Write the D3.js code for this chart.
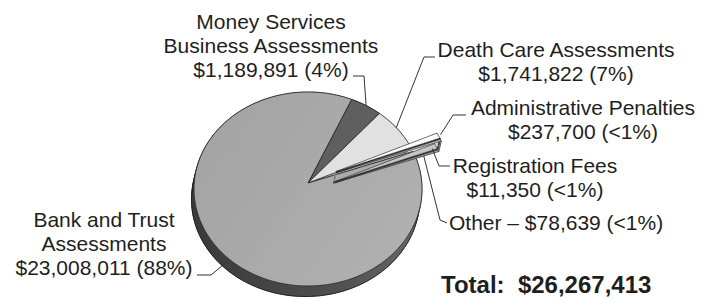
<!DOCTYPE html>
<html>
<head>
<meta charset="utf-8">
<script src="https://cdn.jsdelivr.net/npm/d3@7"></script>
<style>
  html, body { margin: 0; padding: 0; background: #fff; }
  svg { display: block; }
  .lbl { font-family: "Liberation Sans", Arial, sans-serif; font-size: 21px; fill: #1e1e1e; }
  .total { font-weight: bold; font-size: 24px; }
</style>
</head>
<body>
<svg id="chart" width="706" height="299"></svg>
<script>
"use strict";

// ---- Data ----
const CATEGORIES = ["Money Services Business Assessments", "Death Care Assessments", "Administrative Penalties",
  "Registration Fees", "Other", "Bank and Trust Assessments"];
const NAME_LINES = [["Money Services", "Business Assessments"], ["Death Care Assessments"], ["Administrative Penalties"],
  ["Registration Fees"], ["Other"], ["Bank and Trust", "Assessments"]];
const AMOUNTS = [1189891, 1741822, 237700, 11350, 78639, 23008011];
const PERCENTS = ["4%", "7%", "<1%", "<1%", "<1%", "88%"];
const EXPLODED = [false, false, true, true, true, false];
const TOTAL = 26267413;

// ---- Layout / style ----
const SVG_ID = "#chart";
const CX = 308, CY = 189, RX = 114, RY = 97; // ellipse of the pie top
const APEX_DY = -6;        // perspective: centre point sits a little above ellipse centre
const DEPTH = [-2.5, 10.5]; // extrusion vector of the pie side
const EXPLODE = 0.27;      // explosion as fraction of radius
const START = 22.5 * Math.PI / 180;

const TOP_FILL = ["#5f5f5f", "#e1e1e1", "#ffffff", "#000000", "#cfcfcf", "url(#topGrad)"];
const SIDE_FILL = ["#3e3e3e", "#b5b5b5", "#c6c6c6", "#000000", "#a9a9a9", "url(#sideGrad)"];

// label placement: x, first baseline, anchor, leader polyline start (+ elbow), leader end on slice
const LABELS = [
  { x: 271, y: 28.5, anchor: "middle", lead: [[353, 76], [364, 76]], r: 1, dz: 0 },
  { x: 556, y: 57, anchor: "middle", lead: [[435, 57], [424, 57]], r: 1, dz: 0 },
  { x: 583, y: 115, anchor: "middle", lead: [[466, 115], [453, 115]], r: 1.02, dz: 0 },
  { x: 535, y: 173, anchor: "middle", lead: [[450, 166], [439, 166]], r: 0.94, dz: 0.7 },
  { x: 449, y: 230, anchor: "start", lead: [[447, 223], [440, 220]], r: 0.86, dz: 1 },
  { x: 104, y: 227, anchor: "middle", lead: [[197, 275], [211, 275]], r: 1, dz: 0.4 }
];
const LINE_GAP = 24;

const DOLLAR = d3.format("$,");
const X_SCALE = d3.scaleLinear().domain([-1, 1]).range([CX - RX, CX + RX]);
const Y_SCALE = d3.scaleLinear().domain([-1, 1]).range([CY + RY, CY - RY]);

const svg = d3.select(SVG_ID);

// gradients
const defs = svg.append("defs");
const tg = defs.append("linearGradient").attr("id", "topGrad").attr("x1", 0).attr("x2", 1).attr("y1", 0.2).attr("y2", 0.8);
tg.append("stop").attr("offset", 0).attr("stop-color", "#a3a3a3");
tg.append("stop").attr("offset", 1).attr("stop-color", "#b1b1b1");
const sg = defs.append("linearGradient").attr("id", "sideGrad").attr("x1", 0).attr("x2", 1).attr("y1", 0).attr("y2", 0);
sg.append("stop").attr("offset", 0).attr("stop-color", "#3a3a3a");
sg.append("stop").attr("offset", 0.6).attr("stop-color", "#4e4e4e");
sg.append("stop").attr("offset", 1).attr("stop-color", "#686868");

// pie angles
const pie = d3.pie().sort(null).value(d => d).startAngle(START).endAngle(START + 2 * Math.PI);
const arcs = pie(AMOUNTS).map((a, i) => {
  const mid = (a.startAngle + a.endAngle) / 2;
  const off = EXPLODED[i]
    ? [X_SCALE(EXPLODE * Math.sin(mid)) - CX, Y_SCALE(EXPLODE * Math.cos(mid)) - CY]
    : [0, 0];
  return { a0: a.startAngle, a1: a.endAngle, mid: mid, off: off, i: i };
});

function rim(a, r, off) {
  return [X_SCALE(r * Math.sin(a)) + off[0], Y_SCALE(r * Math.cos(a)) + off[1]];
}

function outline(s) {
  const n = Math.max(2, Math.ceil((s.a1 - s.a0) / 0.02));
  const pts = [[CX + s.off[0], CY + APEX_DY + s.off[1]]];
  for (let k = 0; k <= n; k++) pts.push(rim(s.a0 + (s.a1 - s.a0) * k / n, 1, s.off));
  return pts;
}

function down(p) {
  return [p[0] + DEPTH[0], p[1] + DEPTH[1]];
}

function polyPath(pts) {
  return "M" + pts.map(p => p[0].toFixed(2) + "," + p[1].toFixed(2)).join("L") + "Z";
}

function sidePath(pts) {
  let d = "";
  for (let k = 0; k < pts.length; k++) {
    const p = pts[k], q = pts[(k + 1) % pts.length];
    d += polyPath([p, q, down(q), down(p)]);
  }
  return d;
}

function bottomEdge(pts, closed) {
  const b = (closed ? pts : pts.slice(1)).map(down);
  return "M" + b.map(p => p[0].toFixed(2) + "," + p[1].toFixed(2)).join("L") + (closed ? "Z" : "");
}

function drawSlices(group, list, small) {
  const sides = group.append("g");
  const tops = group.append("g");
  list.forEach(s => {
    const pts = outline(s);
    sides.append("path").attr("d", sidePath(pts))
      .attr("fill", SIDE_FILL[s.i]).attr("stroke", SIDE_FILL[s.i])
      .attr("stroke-width", 0.5).attr("stroke-linejoin", "round");
    sides.append("path").attr("d", bottomEdge(pts, small))
      .attr("fill", "none").attr("stroke", "#1a1a1a").attr("stroke-width", small ? 0.6 : 0.9);
    if (small) {
      // vertical edge at the outer tip
      const tip = pts[pts.length - 1], tip0 = pts[1];
      sides.append("path").attr("d", d3.line()([tip0, down(tip0)]) + d3.line()([tip, down(tip)]))
        .attr("stroke", "#222").attr("stroke-width", 0.6);
    }
    tops.append("path").attr("d", polyPath(pts))
      .attr("fill", TOP_FILL[s.i]).attr("stroke", "#222").attr("stroke-width", small ? 0.6 : 0.8)
      .attr("stroke-linejoin", "round");
  });
}

const gPie = svg.append("g").classed("g-pie", true);
drawSlices(gPie.append("g"), arcs.filter(s => !EXPLODED[s.i]), false);
drawSlices(gPie.append("g"), arcs.filter(s => EXPLODED[s.i]), true);

// leaders and labels
const gLabels = svg.append("g").classed("g-labels", true);
arcs.forEach(s => {
  const L = LABELS[s.i];
  const end = rim(s.mid, L.r, s.off);
  end[0] += L.dz * DEPTH[0];
  end[1] += L.dz * DEPTH[1];
  gLabels.append("path")
    .attr("d", d3.line()(L.lead.concat([end])))
    .attr("fill", "none").attr("stroke", "#333").attr("stroke-width", 1);

  const amountLine = DOLLAR(AMOUNTS[s.i]) + " (" + PERCENTS[s.i] + ")";
  const lines = NAME_LINES[s.i].length === 1 && L.anchor === "start"
    ? [NAME_LINES[s.i][0] + " \u2013 " + amountLine]
    : NAME_LINES[s.i].concat([amountLine]);
  const t = gLabels.append("text").attr("class", "lbl").attr("text-anchor", L.anchor);
  lines.forEach((ln, k) => {
    t.append("tspan").attr("x", L.x).attr("y", L.y + k * LINE_GAP).text(ln);
  });
});

gLabels.append("text").attr("class", "lbl total")
  .attr("x", 441).attr("y", 293)
  .text("Total:  " + DOLLAR(TOTAL))
  .attr("xml:space", "preserve").style("white-space", "pre");
</script>
</body>
</html>
